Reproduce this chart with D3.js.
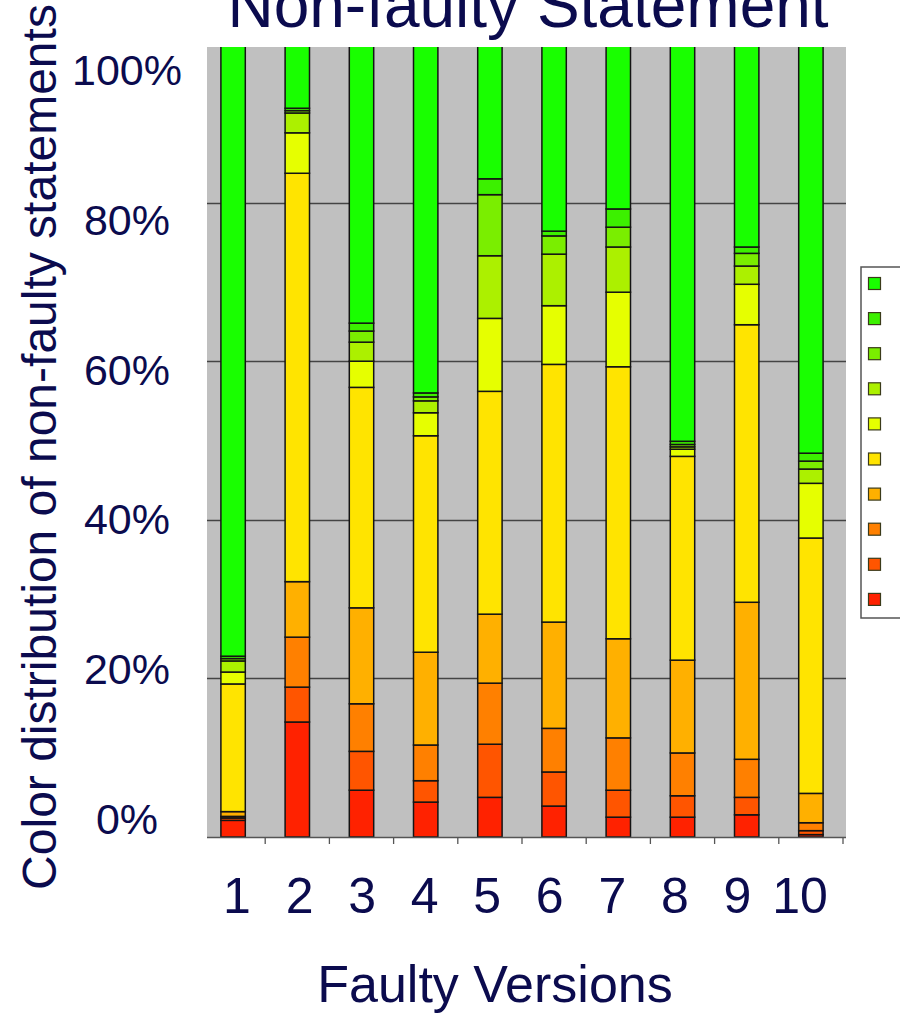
<!DOCTYPE html>
<html>
<head>
<meta charset="utf-8">
<script src="https://cdn.jsdelivr.net/npm/d3@7"></script>
<style>
  html, body { margin: 0; padding: 0; background: #ffffff; }
  svg { display: block; }
  text { font-family: "Liberation Sans", Arial, Helvetica, sans-serif; fill: #0b0b4e; }
</style>
</head>
<body>
<svg id="chart" width="900" height="1014"></svg>
<script>
// ---- data (percent of non-faulty statements per colour band, bottom = red, top = green)
const versions = ["1", "2", "3", "4", "5", "6", "7", "8", "9", "10"];
const seriesKeys = ["c1", "c2", "c3", "c4", "c5", "c6", "c7", "c8", "c9", "c10"];
const c1  = [2.1, 14.5, 5.9, 4.4, 5.0, 3.9, 2.5, 2.5, 2.8, 0.3];
const c2  = [0.3, 4.4, 4.9, 2.7, 6.7, 4.3, 3.4, 2.7, 2.2, 0.5];
const c3  = [0.2, 6.3, 6.0, 4.5, 7.7, 5.5, 6.6, 5.4, 4.8, 1.0];
const c4  = [0.6, 7.0, 12.1, 11.7, 8.7, 13.4, 12.5, 11.7, 19.8, 3.7];
const c5  = [16.1, 51.5, 27.8, 27.3, 28.1, 32.5, 34.3, 25.7, 35.0, 32.2];
const c6  = [1.5, 5.1, 3.3, 2.9, 9.2, 7.4, 9.4, 0.9, 5.1, 6.9];
const c7  = [1.4, 2.5, 2.4, 1.5, 7.9, 6.5, 5.7, 0.3, 2.3, 1.8];
const c8  = [0.3, 0.3, 1.4, 0.5, 7.7, 2.3, 2.5, 0.3, 1.6, 1.0];
const c9  = [0.3, 0.3, 1.0, 0.5, 2.0, 0.6, 2.3, 0.4, 0.8, 1.0];
const c10 = [77.2, 8.1, 35.2, 44.0, 17.0, 23.6, 20.8, 50.1, 25.6, 51.6];
const seriesColors = ["#ff2200", "#ff5500", "#ff8000", "#ffb000", "#ffe400",
                      "#e6ff00", "#acf000", "#7aee00", "#3cf000", "#19ff00"];
const yTicks = [0, 0.2, 0.4, 0.6, 0.8, 1.0];
const titleText = "Non-faulty Statement";
const xTitle = "Faulty Versions";
const yTitle = "Color distribution of non-faulty statements";

// ---- build table
const seriesValues = [c1, c2, c3, c4, c5, c6, c7, c8, c9, c10];
const table = versions.map((v, i) => {
  const row = { version: v };
  seriesKeys.forEach((k, j) => { row[k] = seriesValues[j][i]; });
  return row;
});
const stacked = d3.stack().keys(seriesKeys).offset(d3.stackOffsetExpand)(table);

// ---- layout
const svg = d3.select("#chart");
const plot = { left: 207, right: 846, top: 47, bottom: 837 };

const x = d3.scaleBand().domain(versions).range([201, 843])
  .paddingInner(0.62).paddingOuter(0.31);
const y = d3.scaleLinear().domain([0, 1]).range([837, 44]);
const color = d3.scaleOrdinal().domain(seriesKeys).range(seriesColors);

svg.append("rect").attr("width", 900).attr("height", 1014).attr("fill", "#ffffff");

// plot background
svg.append("rect")
  .attr("x", plot.left).attr("y", plot.top)
  .attr("width", plot.right - plot.left).attr("height", plot.bottom - plot.top)
  .attr("fill", "#c0c0c0");

// gridlines
svg.append("g").selectAll("line")
  .data(yTicks.filter(t => t > 0 && t < 1))
  .join("line")
  .attr("x1", plot.left).attr("x2", plot.right)
  .attr("y1", d => Math.round(y(d)) + 0.5).attr("y2", d => Math.round(y(d)) + 0.5)
  .attr("stroke", "#444444").attr("stroke-width", 1.3);

// clip
svg.append("clipPath").attr("id", "plotClip")
  .append("rect").attr("x", plot.left).attr("y", plot.top)
  .attr("width", plot.right - plot.left).attr("height", plot.bottom - plot.top);

// bars
const barsG = svg.append("g").attr("clip-path", "url(#plotClip)");
barsG.selectAll("g.series")
  .data(stacked)
  .join("g").attr("class", "series")
  .attr("fill", d => color(d.key))
  .selectAll("rect")
  .data(d => d)
  .join("rect")
  .attr("x", d => x(d.data.version))
  .attr("width", x.bandwidth())
  .attr("y", d => y(d[1]))
  .attr("height", d => Math.max(0, y(d[0]) - y(d[1])))
  .attr("stroke", "#141414")
  .attr("stroke-width", 1.5);

// x axis line + ticks at category boundaries
const axisG = svg.append("g");
axisG.append("line")
  .attr("x1", plot.left).attr("x2", plot.right)
  .attr("y1", plot.bottom + 0.5).attr("y2", plot.bottom + 0.5)
  .attr("stroke", "#555555").attr("stroke-width", 1.3);
const step = x.step();
axisG.selectAll("line.tick")
  .data(versions)
  .join("line").attr("class", "tick")
  .attr("x1", d => x(d) + x.bandwidth() + (step - x.bandwidth()) / 2)
  .attr("x2", d => x(d) + x.bandwidth() + (step - x.bandwidth()) / 2)
  .attr("y1", plot.bottom).attr("y2", plot.bottom + 7)
  .attr("stroke", "#555555").attr("stroke-width", 1.3);

// y tick labels (text box in the original, spaced independently of gridlines)
const yLab = d3.scaleLinear().domain([0, 1]).range([834, 85]);
svg.append("g").selectAll("text")
  .data(yTicks)
  .join("text")
  .attr("x", 127).attr("y", d => yLab(d))
  .attr("text-anchor", "middle")
  .attr("font-size", 43)
  .text(d3.format(".0%"));

// x tick labels
const xLab = d3.scalePoint().domain(versions).range([237, 800]);
svg.append("g").selectAll("text")
  .data(versions)
  .join("text")
  .attr("x", d => xLab(d)).attr("y", 913)
  .attr("text-anchor", "middle")
  .attr("font-size", 50)
  .text(d => d);

// titles
svg.append("text").attr("x", 528).attr("y", 27)
  .attr("text-anchor", "middle").attr("font-size", 64).text(titleText);
svg.append("text").attr("x", 495).attr("y", 1002)
  .attr("text-anchor", "middle").attr("font-size", 52).text(xTitle);
svg.append("text")
  .attr("transform", "translate(56,447) rotate(-90)")
  .attr("text-anchor", "middle").attr("font-size", 48).text(yTitle);

// legend (labels fall outside the visible frame)
const legend = svg.append("g");
legend.append("rect")
  .attr("x", 861).attr("y", 267).attr("width", 60).attr("height", 351)
  .attr("fill", "#ffffff").attr("stroke", "#555555").attr("stroke-width", 1.5);
const legendKeys = seriesKeys.slice().reverse();
legend.selectAll("rect.sw")
  .data(legendKeys)
  .join("rect").attr("class", "sw")
  .attr("x", 868.5)
  .attr("y", (d, i) => 277.5 + i * 35.1)
  .attr("width", 12).attr("height", 12)
  .attr("fill", d => color(d))
  .attr("stroke", "#3a3a1a").attr("stroke-width", 1.2);
</script>
</body>
</html>
